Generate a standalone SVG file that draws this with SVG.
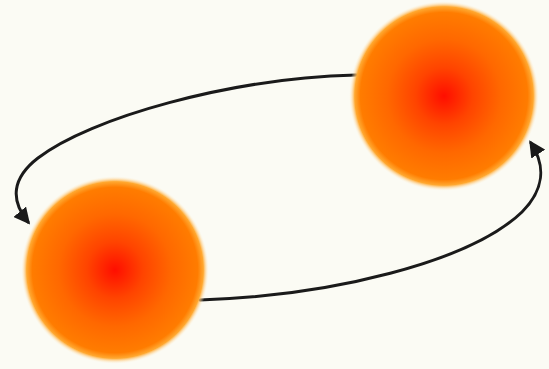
<svg xmlns="http://www.w3.org/2000/svg" width="549" height="369" viewBox="0 0 549 369">
<defs>
<radialGradient id="ball" cx="50%" cy="50%" r="50%">
<stop offset="0" stop-color="#ff0e00"/>
<stop offset="0.3" stop-color="#ff4400"/>
<stop offset="0.6" stop-color="#ff6800"/>
<stop offset="0.88" stop-color="#ff7c00"/>
<stop offset="0.94" stop-color="#ffa830"/>
<stop offset="1" stop-color="#fdf8e8" stop-opacity="0"/>
</radialGradient>
<marker id="ah" viewBox="0 0 10 10" refX="8" refY="5" markerWidth="5.5" markerHeight="5.5" orient="auto" markerUnits="strokeWidth">
<path d="M0,0 L10,5 L0,10 z" fill="#1a1a1a"/>
</marker>
<style>
.edge{fill:none;stroke:#1a1a1a;stroke-width:3;stroke-linecap:round;marker-end:url(#ah);}
</style>
</defs>
<rect width="549" height="369" fill="#fbfbf4"/>
<g id="connectors">
<path class="edge" d="M356,75 C230,78 90,118 38,158 C12,178 10,200 28,222"/>
<path class="edge" d="M200,300 C330,296 470,262 522,212 C544,190 546,166 531,143"/>
</g>
<g id="node-top">
<circle cx="444" cy="96" r="95" fill="url(#ball)"/>
</g>
<g id="node-bottom">
<circle cx="115" cy="270" r="94" fill="url(#ball)"/>
</g>
</svg>
